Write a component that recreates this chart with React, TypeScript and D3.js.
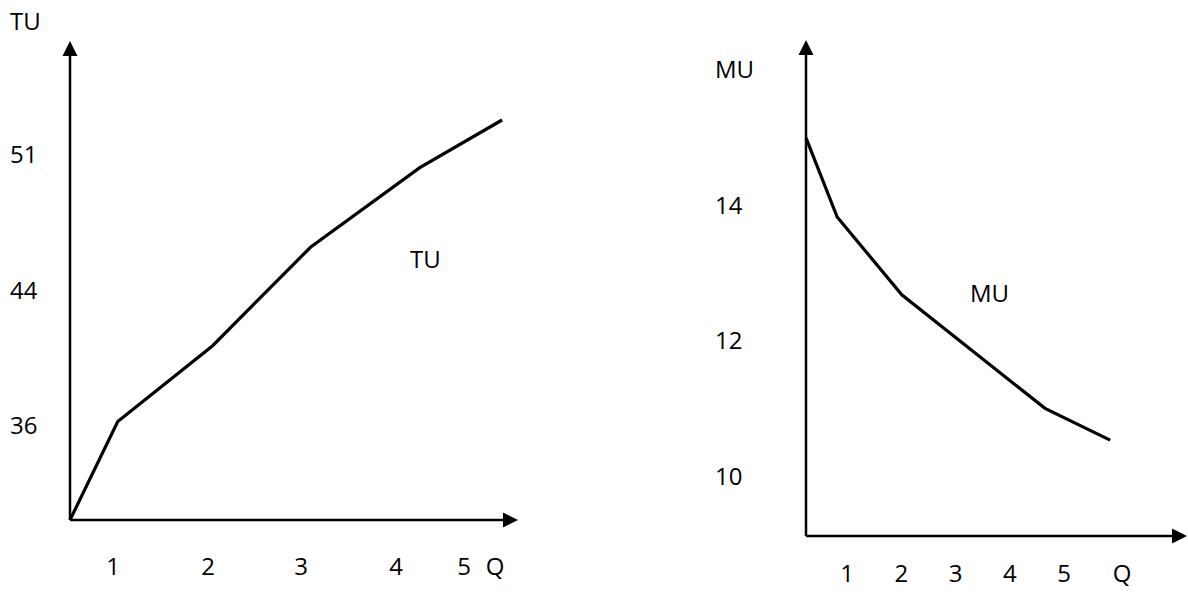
import React from "react";
import * as d3 from "d3";

// ---- Left panel: Total Utility ----
const tuQ = [0, 1.05, 2.05, 3.1, 4.35, 5.56];
const tuValues = [30, 36.2, 40.7, 46.2, 50.3, 52.75];
const tuYTicks = [51, 44, 36];
const tuXTicks = [1, 2, 3, 4, 5];

// ---- Right panel: Marginal Utility ----
const muQ = [0, 0.76, 2.01, 4.65, 5.85];
const muValues = [15.0, 13.83, 12.68, 11.0, 10.53];
const muYTicks = [14, 12, 10];
const muXTicks = [1, 2, 3, 4, 5];

const W = 1188;
const H = 594;
const FONT = "'Open Sans', 'Noto Sans', sans-serif";

// scales (hand-drawn axes are not evenly spaced, so polylinear domains)
const xL = d3.scaleLinear().domain([0, 1, 2, 3, 4, 5]).range([70, 113, 208, 301, 396, 464]);
const yL = d3.scaleLinear().domain([30, 36, 44, 51]).range([520, 425, 290, 154]);

const xR = d3.scaleLinear().domain([0, 1, 5]).range([806, 847, 1064]);
const yR = d3.scaleLinear().domain([10, 14]).range([476, 205.5]);

type Pt = [number, number];

function Arrow({ x, y, dir }: { x: number; y: number; dir: "up" | "right" }) {
  const L = 15;
  const h = 7.5;
  const pts =
    dir === "up"
      ? [[x, y], [x - h, y + L], [x + h, y + L]]
      : [[x, y], [x - L, y - h], [x - L, y + h]];
  return <polygon points={pts.map((p) => p.join(",")).join(" ")} fill="#000" />;
}

export default function App() {
  const tuLine = d3
    .line<Pt>()
    .x((d) => xL(d[0]))
    .y((d) => yL(d[1]))(tuQ.map((q, i) => [q, tuValues[i]] as Pt));

  const muLine = d3
    .line<Pt>()
    .x((d) => xR(d[0]))
    .y((d) => yR(d[1]))(muQ.map((q, i) => [q, muValues[i]] as Pt));

  const oLx = xL(0);
  const oLy = yL(30);
  const oRx = xR(0);
  const oRy = 536;

  return (
    <svg
      width={W}
      height={H}
      style={{ position: "absolute", left: 0, top: 0, background: "#fff" }}
      fontFamily={FONT}
      fontSize={24}
    >
      <rect x={0} y={0} width={W} height={H} fill="#fff" />

      {/* Left panel axes */}
      <line x1={oLx} y1={oLy} x2={oLx} y2={54} stroke="#000" strokeWidth={2.5} />
      <Arrow x={oLx} y={41} dir="up" />
      <line x1={oLx} y1={oLy} x2={505} y2={oLy} stroke="#000" strokeWidth={2.5} />
      <Arrow x={518} y={oLy} dir="right" />

      {/* Left labels */}
      <text x={10} y={30} fill="#000">TU</text>
      {tuYTicks.map((v) => (
        <text key={v} x={10} y={yL(v)} dy="0.357em" fill="#000">
          {v}
        </text>
      ))}
      {tuXTicks.map((q) => (
        <text key={q} x={xL(q)} y={575} textAnchor="middle" fill="#000">
          {q}
        </text>
      ))}
      <text x={495} y={575} textAnchor="middle" fill="#000">Q</text>
      <text x={410} y={268} fill="#000">TU</text>

      {/* TU curve */}
      <path d={tuLine || ""} fill="none" stroke="#000" strokeWidth={3.2} strokeLinejoin="miter" />

      {/* Right panel axes */}
      <line x1={oRx} y1={oRy} x2={oRx} y2={53} stroke="#000" strokeWidth={2.5} />
      <Arrow x={oRx} y={40} dir="up" />
      <line x1={oRx} y1={oRy} x2={1176} y2={oRy} stroke="#000" strokeWidth={2.5} />
      <Arrow x={1187} y={oRy} dir="right" />

      {/* Right labels */}
      <text x={715} y={78} fill="#000">MU</text>
      {muYTicks.map((v) => (
        <text key={v} x={715} y={yR(v)} dy="0.357em" fill="#000">
          {v}
        </text>
      ))}
      {muXTicks.map((q) => (
        <text key={q} x={xR(q)} y={582} textAnchor="middle" fill="#000">
          {q}
        </text>
      ))}
      <text x={1122} y={582} textAnchor="middle" fill="#000">Q</text>
      <text x={970} y={302} fill="#000">MU</text>

      {/* MU curve */}
      <path d={muLine || ""} fill="none" stroke="#000" strokeWidth={3.2} strokeLinejoin="miter" />
    </svg>
  );
}
